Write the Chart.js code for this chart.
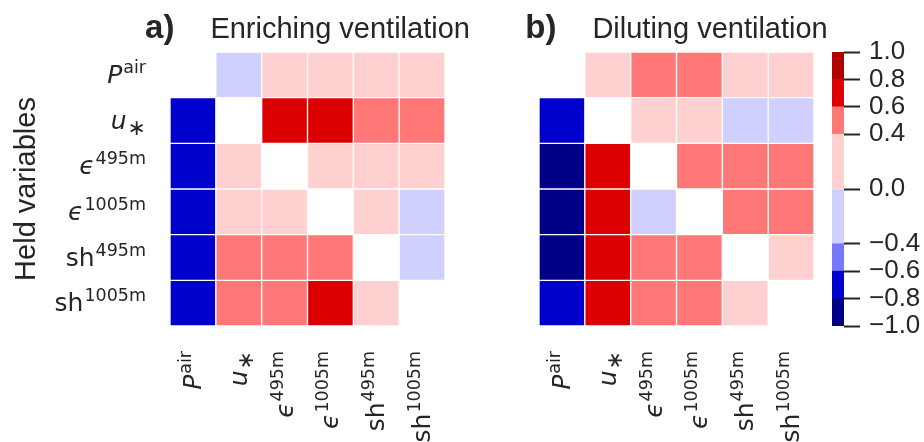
<!DOCTYPE html>
<html>
<head>
<meta charset="utf-8">
<title>Held variables heatmaps</title>
<script src="https://cdn.jsdelivr.net/npm/chart.js@4.4.1/dist/chart.umd.min.js"></script>
<style>
  html, body { margin: 0; padding: 0; background: #ffffff; }
  #wrap { position: relative; width: 924px; height: 442px; }
  #wrap canvas { position: absolute; left: 0; top: 0; }
</style>
</head>
<body>
<div id="wrap">
  <canvas id="panelA" width="924" height="442"></canvas>
  <canvas id="panelB" width="924" height="442"></canvas>
  <canvas id="colorbar" width="924" height="442"></canvas>
</div>
<script>
// variables (same order on both axes)
const varNames = ['Pair', 'u*', 'eps495m', 'eps1005m', 'sh495m', 'sh1005m'];
const labelBase = ['P', 'u', 'ϵ', 'ϵ', 'sh', 'sh'];
const labelSup = ['air', '', '495m', '1005m', '495m', '1005m'];
const labelSub = ['', '∗', '', '', '', ''];
const labelItalic = [true, true, true, true, false, false];

// rows = held variable, columns = varied variable, null on the diagonal
const enrichValues = [
    [null, -0.15, 0.20, 0.25, 0.15, 0.20],
    [-0.70, null, 0.70, 0.72, 0.50, 0.48],
    [-0.72, 0.20, null, 0.22, 0.18, 0.20],
    [-0.70, 0.15, 0.20, null, 0.20, -0.15],
    [-0.74, 0.50, 0.52, 0.45, null, -0.20],
    [-0.70, 0.48, 0.50, 0.70, 0.20, null]
];
const diluteValues = [
    [null, 0.20, 0.50, 0.52, 0.18, 0.20],
    [-0.72, null, 0.20, 0.22, -0.15, -0.20],
    [-0.90, 0.72, null, 0.50, 0.48, 0.50],
    [-0.92, 0.70, -0.20, null, 0.50, 0.45],
    [-0.90, 0.74, 0.50, 0.48, null, 0.20],
    [-0.75, 0.70, 0.52, 0.50, 0.22, null]
];

const panelTags = ['a)', 'b)'];
const panelTitles = ['Enriching ventilation', 'Diluting ventilation'];
const yTitle = 'Held variables';

// discrete colour bar
const cbBounds = [-1, -0.8, -0.6, -0.4, 0, 0.4, 0.6, 0.8, 1];
const cbColors = ['#000088', '#0000cc', '#7777ff', '#d0d0ff', '#ffd0d0', '#ff7777', '#dd0000', '#b00000'];
const cbTicks = [-1, -0.8, -0.6, -0.4, 0, 0.4, 0.6, 0.8, 1];

const textColor = '#262626';
Chart.defaults.font.family = '"Liberation Sans", Arial, sans-serif';
Chart.defaults.color = textColor;

function colorFor(v) {
    for (let i = 0; i < cbColors.length; i++) {
        if (v < cbBounds[i + 1]) return cbColors[i];
    }
    return cbColors[cbColors.length - 1];
}

// draw base text with a superscript or subscript, right-aligned at (right, base)
function drawMath(ctx, i, right, base) {
    const mainFont = (labelItalic[i] ? 'italic ' : '') + '25px "DejaVu Sans"';
    const smallFont = labelSup[i] ? '17.5px "DejaVu Sans"' : '22px "DejaVu Sans"';
    const tail = labelSup[i] || labelSub[i];
    ctx.font = smallFont;
    const wTail = ctx.measureText(tail).width;
    ctx.font = mainFont;
    const wMain = ctx.measureText(labelBase[i]).width;
    ctx.textAlign = 'left';
    ctx.textBaseline = 'alphabetic';
    ctx.fillText(labelBase[i], right - wTail - wMain - 1, base);
    ctx.font = smallFont;
    ctx.fillText(tail, right - wTail, labelSup[i] ? base - 10 : base + 6);
}

const panelText = {
    id: 'panelText',
    afterDraw(chart, args, opts) {
        const ctx = chart.ctx;
        const area = chart.chartArea;
        const xs = chart.scales.x;
        const ys = chart.scales.y;
        ctx.save();
        ctx.fillStyle = textColor;

        // panel title, tag + text centred over the panel
        ctx.font = 'bold 33px "Liberation Sans"';
        const wTag = ctx.measureText(opts.tag).width;
        ctx.font = '29px "Liberation Sans"';
        const wTitle = ctx.measureText(opts.title).width;
        const gap = 36;
        const start = (area.left + area.right) / 2 - (wTag + gap + wTitle) / 2;
        ctx.textAlign = 'left';
        ctx.textBaseline = 'alphabetic';
        ctx.font = 'bold 33px "Liberation Sans"';
        ctx.fillText(opts.tag, start, 38);
        ctx.font = '29px "Liberation Sans"';
        ctx.fillText(opts.title, start + wTag + gap, 38);

        // rotated column labels
        varNames.forEach((n, i) => {
            ctx.save();
            ctx.translate(xs.getPixelForValue(i) + 8, area.bottom + 25);
            ctx.rotate(-Math.PI / 2);
            drawMath(ctx, i, 0, 0);
            ctx.restore();
        });

        if (opts.rowLabels) {
            varNames.forEach((n, i) => {
                drawMath(ctx, i, area.left - 24, ys.getPixelForValue(i + 0.5) + 8);
            });
            ctx.save();
            ctx.translate(35, (area.top + area.bottom) / 2);
            ctx.rotate(-Math.PI / 2);
            ctx.font = '29px "Liberation Sans"';
            ctx.textAlign = 'center';
            ctx.fillText(yTitle, 0, 0);
            ctx.restore();
        }
        ctx.restore();
    }
};

function heatDatasets(values) {
    return values.map((row, r) => ({
        data: row.map(v => v === null ? null : [r, r + 1]),
        backgroundColor: row.map(v => v === null ? 'rgba(0,0,0,0)' : colorFor(v)),
        borderColor: '#ffffff',
        borderWidth: 1,
        borderSkipped: false,
        barPercentage: 1,
        categoryPercentage: 1,
        grouped: false
    }));
}

function makePanel(id, values, k, padLeft, rowLabels) {
    new Chart(document.getElementById(id), {
        type: 'bar',
        data: { labels: varNames, datasets: heatDatasets(values) },
        options: {
            responsive: false,
            animation: false,
            layout: { padding: { left: padLeft, right: 924 - padLeft - 275, top: 52, bottom: 116 } },
            plugins: {
                legend: { display: false },
                tooltip: { enabled: false },
                panelText: { tag: panelTags[k], title: panelTitles[k], rowLabels: rowLabels }
            },
            scales: {
                x: { type: 'category', display: false },
                y: { type: 'linear', min: 0, max: 6, reverse: true, display: false }
            }
        },
        plugins: [panelText]
    });
}

makePanel('panelA', enrichValues, 0, 170, true);
makePanel('panelB', diluteValues, 1, 539, false);

new Chart(document.getElementById('colorbar'), {
    type: 'bar',
    data: {
        labels: ['cb'],
        datasets: cbColors.map((c, i) => ({
            data: [[cbBounds[i], cbBounds[i + 1]]],
            backgroundColor: c,
            borderWidth: 0,
            barPercentage: 1,
            categoryPercentage: 1,
            grouped: false
        }))
    },
    options: {
        responsive: false,
        animation: false,
        layout: { padding: { left: 832, right: 0, top: 52, bottom: 116 } },
        plugins: { legend: { display: false }, tooltip: { enabled: false } },
        scales: {
            x: { display: false },
            y: {
                position: 'right',
                min: -1,
                max: 1,
                afterBuildTicks: axis => { axis.ticks = cbTicks.map(v => ({ value: v })); },
                afterFit: axis => { axis.width = 80; },
                border: { display: false },
                grid: { drawOnChartArea: false, tickLength: 16, tickWidth: 2, tickColor: textColor },
                ticks: {
                    padding: 9,
                    color: textColor,
                    font: { size: 26 },
                    callback: v => (v < 0 ? '\u2212' : '') + Math.abs(v).toFixed(1)
                }
            }
        }
    }
});
</script>
</body>
</html>
